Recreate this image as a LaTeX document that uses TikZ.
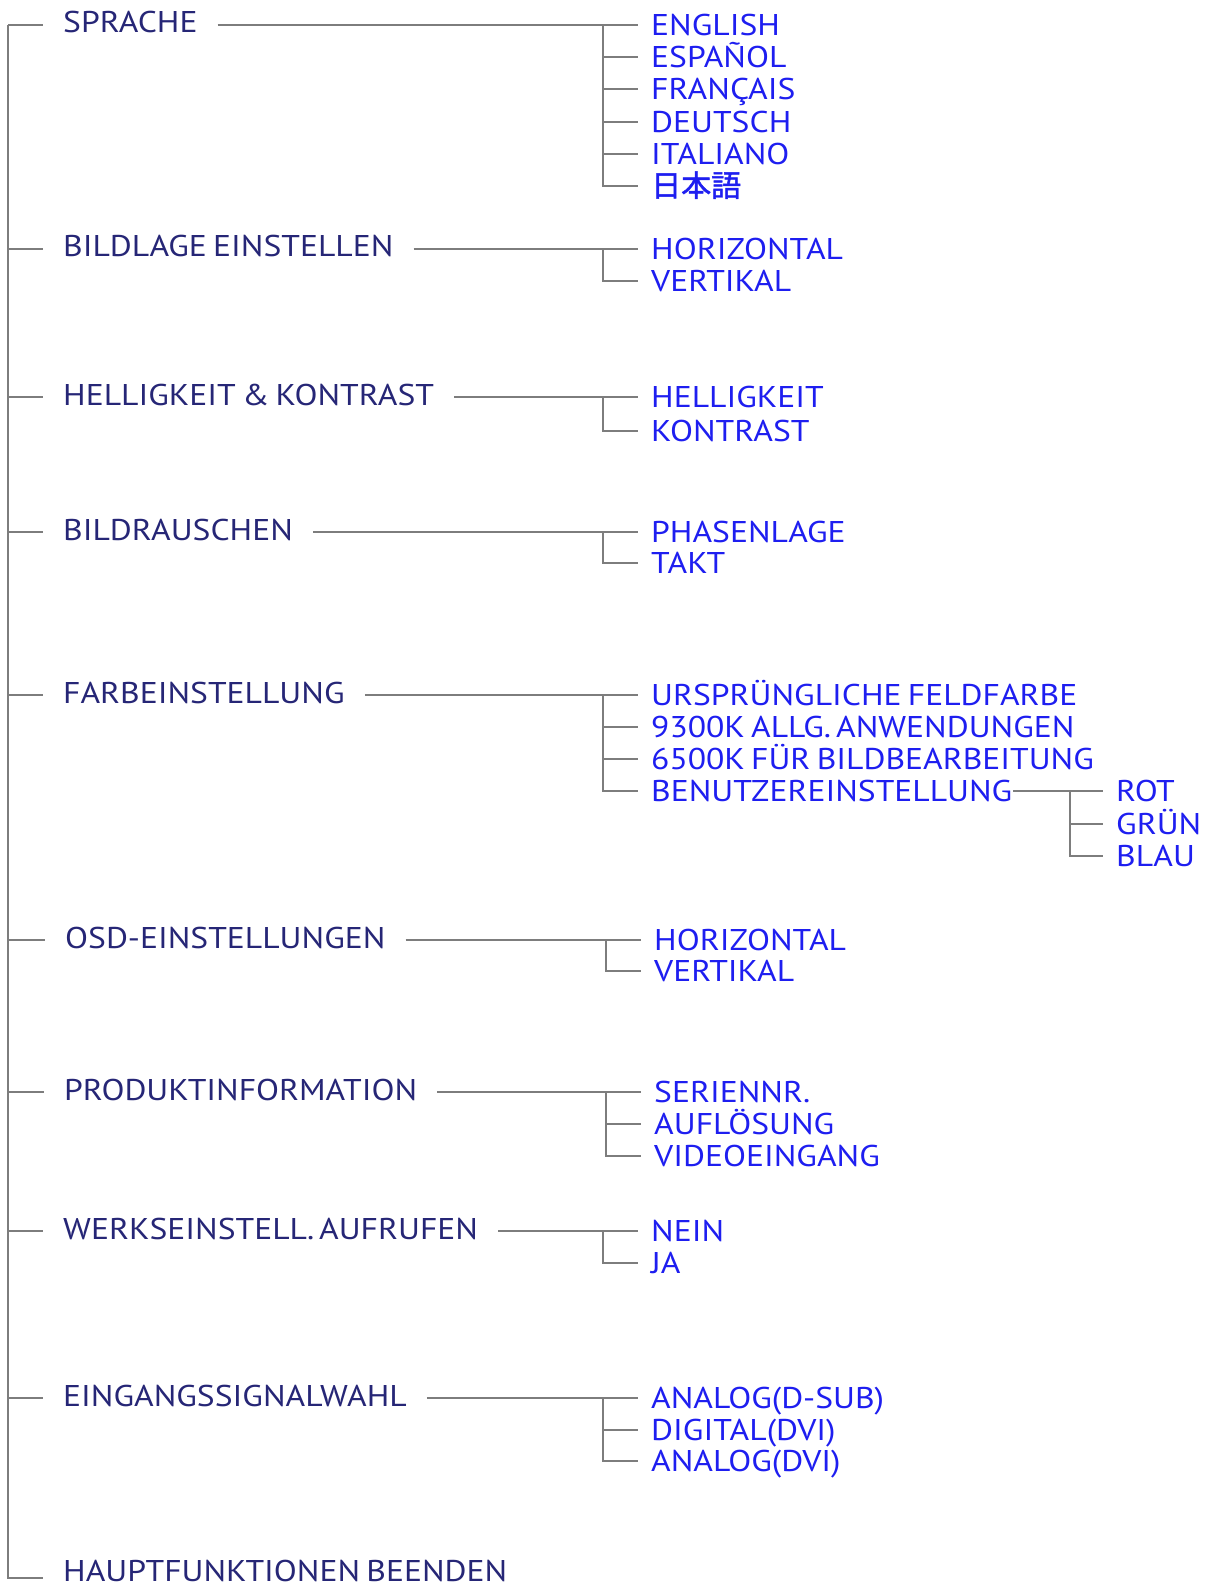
\documentclass[tikz,border=0pt]{standalone}
\usepackage{fontspec}
\setmainfont{PT Sans}[FakeStretch=1.12,WordSpace=0.7]
\newfontfamily\cjk{Noto Sans CJK JP}[FakeBold=1.5]
\usetikzlibrary{positioning}
\definecolor{menunavy}{RGB}{38,38,118}
\definecolor{menublue}{RGB}{30,30,240}
\definecolor{menugray}{RGB}{125,125,125}
\tikzset{
  mainitem/.style={anchor=west,inner xsep=20pt,inner ysep=0pt,text height=21pt,text depth=5pt,
    text=menunavy,font=\fontsize{30}{36}\selectfont},
  subitem/.style={anchor=west,inner xsep=13pt,inner ysep=0pt,text height=21pt,text depth=0pt,
    text=menublue,font=\fontsize{30}{36}\selectfont},
  branch/.style={draw=menugray,line width=2pt}
}

\begin{document}
\begin{tikzpicture}[x=1pt,y=-1pt]
\useasboundingbox (0,0) rectangle (1209,1589);
\coordinate (trunk) at (8,0);
\coordinate (fork) at (603,0);
\coordinate (forkb) at (606,0);
\coordinate (forkc) at (1070,0);

% main menu
\node[mainitem] (sprache) at (43,25) {SPRACHE};
\node[mainitem] (bildlage) at (43,249) {BILDLAGE EINSTELLEN};
\node[mainitem] (hellkon) at (43,397) {HELLIGKEIT \& KONTRAST};
\node[mainitem] (rauschen) at (43,532) {BILDRAUSCHEN};
\node[mainitem] (farbe) at (43,695) {FARBEINSTELLUNG};
\node[mainitem] (osd) at (45,940) {OSD-EINSTELLUNGEN};
\node[mainitem] (info) at (44,1092) {PRODUKTINFORMATION};
\node[mainitem] (werk) at (43,1231) {WERKSEINSTELL.\,AUFRUFEN};
\node[mainitem] (eingang) at (43,1398) {EINGANGSSIGNALWAHL};
\node[mainitem,text depth=14pt] (ende) at (43,1578) {HAUPTFUNKTIONEN BEENDEN};

\draw[branch] (sprache.west -| trunk) |- (ende.west);
\foreach \m in {sprache,bildlage,hellkon,rauschen,farbe,osd,info,werk,eingang}
  \draw[branch] (\m.west -| trunk) -- (\m.west);

% sprache
\foreach \t [count=\i] in {ENGLISH,ESPAÑOL,FRANÇAIS,DEUTSCH,ITALIANO,{\cjk 日本語}}
  \node[subitem] (sprache-\i) at (638,{25+32.2*(\i-1)}) {\t};
\draw[branch] (sprache.east) -- (sprache-1.west);
\draw[branch] (sprache-1.west -| fork) |- (sprache-6.west);
\foreach \i in {2,...,5}
  \draw[branch] (sprache-\i.west -| fork) -- (sprache-\i.west);

% bildlage
\node[subitem] (bildlage-1) at (638,249) {HORIZONTAL};
\node[subitem] (bildlage-2) at (638,281) {VERTIKAL};
\draw[branch] (bildlage.east) -- (bildlage-1.west);
\draw[branch] (bildlage-1.west -| fork) |- (bildlage-2.west);

% helligkeit & kontrast
\node[subitem] (hellkon-1) at (638,397) {HELLIGKEIT};
\node[subitem] (hellkon-2) at (638,431) {KONTRAST};
\draw[branch] (hellkon.east) -- (hellkon-1.west);
\draw[branch] (hellkon-1.west -| fork) |- (hellkon-2.west);

% bildrauschen
\node[subitem] (rauschen-1) at (638,532) {PHASENLAGE};
\node[subitem] (rauschen-2) at (638,563) {TAKT};
\draw[branch] (rauschen.east) -- (rauschen-1.west);
\draw[branch] (rauschen-1.west -| fork) |- (rauschen-2.west);

% farbeinstellung
\foreach \t [count=\i] in {URSPRÜNGLICHE FELDFARBE,9300K ALLG.\,ANWENDUNGEN,6500K FÜR BILDBEARBEITUNG,BENUTZEREINSTELLUNG}
  \node[subitem] (farbe-\i) at (638,{695+32*(\i-1)}) {\t};
\draw[branch] (farbe.east) -- (farbe-1.west);
\draw[branch] (farbe-1.west -| fork) |- (farbe-4.west);
\foreach \i in {2,3}
  \draw[branch] (farbe-\i.west -| fork) -- (farbe-\i.west);
\foreach \t [count=\i] in {ROT,GRÜN,BLAU}
  \node[subitem] (rgb-\i) at (1103,{791+32.5*(\i-1)}) {\t};
\draw[branch] ([xshift=-12pt]farbe-4.east) -- (rgb-1.west);
\draw[branch] (rgb-1.west -| forkc) |- (rgb-3.west);
\draw[branch] (rgb-2.west -| forkc) -- (rgb-2.west);

% osd
\node[subitem] (osd-1) at (641,940) {HORIZONTAL};
\node[subitem] (osd-2) at (641,971) {VERTIKAL};
\draw[branch] (osd.east) -- (osd-1.west);
\draw[branch] (osd-1.west -| forkb) |- (osd-2.west);

% produktinformation
\foreach \t [count=\i] in {SERIENNR.,AUFLÖSUNG,VIDEOEINGANG}
  \node[subitem] (info-\i) at (641,{1092+32*(\i-1)}) {\t};
\draw[branch] (info.east) -- (info-1.west);
\draw[branch] (info-1.west -| forkb) |- (info-3.west);
\draw[branch] (info-2.west -| forkb) -- (info-2.west);

% werkseinstellung
\node[subitem] (werk-1) at (638,1231) {NEIN};
\node[subitem] (werk-2) at (638,1263) {JA};
\draw[branch] (werk.east) -- (werk-1.west);
\draw[branch] (werk-1.west -| fork) |- (werk-2.west);

% eingangssignal
\foreach \t [count=\i] in {ANALOG(D-SUB),DIGITAL(DVI),ANALOG(DVI)}
  \node[subitem] (eingang-\i) at (638,{1398+31.5*(\i-1)}) {\t};
\draw[branch] (eingang.east) -- (eingang-1.west);
\draw[branch] (eingang-1.west -| fork) |- (eingang-3.west);
\draw[branch] (eingang-2.west -| fork) -- (eingang-2.west);
\end{tikzpicture}
\end{document}
